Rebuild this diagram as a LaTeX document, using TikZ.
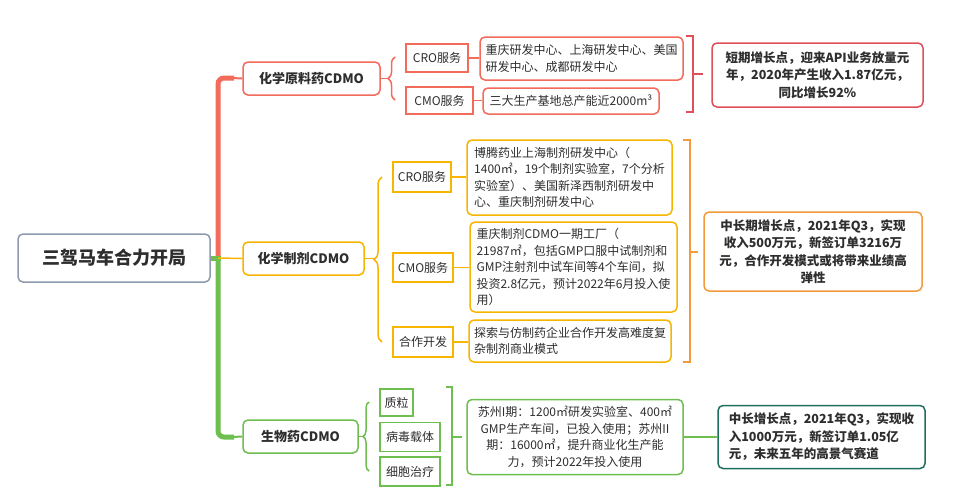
\documentclass[tikz,border=0pt]{standalone}
\usepackage{fontspec}
\setmainfont{Noto Sans CJK SC}
\usetikzlibrary{decorations.pathreplacing}

\definecolor{txt}{HTML}{2E2E2E}
\definecolor{rootc}{HTML}{8E9AAF}
\definecolor{apic}{HTML}{F26B5B}
\definecolor{apisum}{HTML}{E0505A}
\definecolor{prepc}{HTML}{F7B500}
\definecolor{prepsum}{HTML}{F39A3C}
\definecolor{bioc}{HTML}{6EBE50}
\definecolor{biosum}{HTML}{1F6F5F}

\tikzset{
  rootbox/.style={draw=rootc, line width=1.5pt, rounded corners=5pt, text=txt,
    font=\fontsize{18}{22}\selectfont\bfseries, minimum width=192pt, minimum height=48pt},
  branch/.style={draw=#1, line width=1.5pt, rounded corners=5pt, text=txt,
    font=\fontsize{13}{16}\selectfont\bfseries, minimum height=33pt},
  svc/.style={draw=#1, line width=1.5pt, text=txt, inner sep=2pt,
    font=\fontsize{12}{15}\selectfont},
  info/.style={draw=#1, line width=1.5pt, rounded corners=5pt, text=txt, inner sep=3pt,
    align=left, font=\fontsize{12}{16.5}\selectfont},
  sumbox/.style={draw=#1, line width=1.5pt, rounded corners=5pt, text=txt, inner sep=3pt,
    align=center, font=\fontsize{12.5}{17.5}\selectfont\bfseries},
  link/.style={draw=#1, line width=1.5pt},
  curly/.style 2 args={draw=#1, line width=1.5pt, decorate, decoration={brace, amplitude=#2}},
}

\begin{document}
\begin{tikzpicture}[x=1pt, y=-1pt]
  \useasboundingbox[fill=white] (0,0) rectangle (980,496);

  \node[rootbox] (root) at (114,258) {三驾马车合力开局};
  \node[branch=apic, minimum width=137pt] (api) at (311.5,78.5) {化学原料药CDMO};
  \node[branch=prepc, minimum width=121pt] (prep) at (303.5,258.5) {化学制剂CDMO};
  \node[branch=bioc, minimum width=115pt] (bio) at (300.5,436.5) {生物药CDMO};

  \coordinate (spine) at (218,258);
  \draw[apic, line width=5pt, rounded corners=6pt] (218,260) |- (234,78);
  \draw[link=apic, line width=2pt] (232,78) -- (api.west);
  \draw[bioc, line width=5pt] (root.east) -- (220.5,258);
  \draw[bioc, line width=5pt, rounded corners=6pt] (218,258) |- (234,437);
  \draw[link=bioc, line width=2pt] (232,437) -- (bio.west);
  \draw[link=prepc] (spine) -- (prep.west);

  % 化学原料药
  \node[svc=apic, minimum width=62pt, minimum height=28pt] (apiCRO) at (437,58) {CRO服务};
  \node[svc=apic, minimum width=67pt, minimum height=27pt] (apiCMO) at (439.5,100.5) {CMO服务};
  \node[info=apic, minimum width=203pt, minimum height=43pt] (apiCROtxt) at (581.5,58.5)
    {重庆研发中心、上海研发中心、美国\\研发中心、成都研发中心};
  \node[info=apic, minimum width=176pt, minimum height=26pt] (apiCMOtxt) at (571,101)
    {三大生产基地总产能近2000m³};
  \node[sumbox=apisum, minimum width=211pt, minimum height=64pt] (apiSum) at (817.5,75)
    {短期增长点，迎来API业务放量元\\年，2020年产生收入1.87亿元，\\同比增长92\%};
  \draw[curly={apic}{7pt}] (395,100) -- (395,57);
  \coordinate (apiTip) at (388,78.5);
  \draw[link=apic] (api.east) -- (apiTip);
  \draw[link=apic] (apiCRO.east) -- (apiCROtxt.west |- apiCRO.east);
  \draw[link=apic] (apiCMO.east) -- (apiCMOtxt.west |- apiCMO.east);
  \coordinate (apiTick) at (703,74);
  \draw[link=apisum] (686,36) -- (693,36) -- (693,112) -- (686,112);
  \draw[link=apisum] (693,74) -- (apiTick);

  % 化学制剂
  \node[svc=prepc, minimum width=58pt, minimum height=30pt] (prepCRO) at (422,177) {CRO服务};
  \node[svc=prepc, minimum width=60pt, minimum height=29pt] (prepCMO) at (423,267.5) {CMO服务};
  \node[svc=prepc, minimum width=60pt, minimum height=30pt] (prepCo) at (423,342) {合作开发};
  \node[info=prepc, minimum width=205pt, minimum height=75pt] (prepCROtxt) at (569.5,177.5)
    {博腾药业上海制剂研发中心（\\1400㎡，19个制剂实验室，7个分析\\实验室）、美国新泽西制剂研发中\\心、重庆制剂研发中心};
  \node[info=prepc, minimum width=207pt, minimum height=90pt] (prepCMOtxt) at (573.5,267)
    {重庆制剂CDMO一期工厂（\\21987㎡，包括GMP口服中试制剂和\\GMP注射剂中试车间等4个车间，拟\\投资2.8亿元，预计2022年6月投入使\\用）};
  \node[info=prepc, minimum width=202pt, minimum height=42pt] (prepCotxt) at (570,341)
    {探索与仿制药企业合作开发高难度复\\杂制剂商业模式};
  \node[sumbox=prepsum, minimum width=218pt, minimum height=79pt] (prepSum) at (813,251.5)
    {中长期增长点，2021年Q3，实现\\收入500万元，新签订单3216万\\元，合作开发模式或将带来业绩高\\弹性};
  \draw[curly={prepc}{8pt}] (382,342) -- (382,177);
  \coordinate (prepTip) at (374,258.5);
  \draw[link=prepc] (prep.east) -- (prepTip);
  \draw[link=prepc] (prepCRO.east) -- (prepCROtxt.west |- prepCRO.east);
  \draw[link=prepc] (prepCMO.east) -- (prepCMOtxt.west |- prepCMO.east);
  \draw[link=prepc] (prepCo.east) -- (prepCotxt.west |- prepCo.east);
  \coordinate (prepTick) at (698,252);
  \draw[link=prepsum] (683,140) -- (690,140) -- (690,362) -- (683,362);
  \draw[link=prepsum] (690,252) -- (prepTick);

  % 生物药
  \node[svc=bioc, minimum width=33pt, minimum height=27pt] (bioA) at (396.5,402.5) {质粒};
  \node[svc=bioc, minimum width=60pt, minimum height=29pt] (bioB) at (410,437) {病毒载体};
  \node[svc=bioc, minimum width=60pt, minimum height=29pt] (bioC) at (410,471.5) {细胞治疗};
  \node[info=bioc, align=center, minimum width=216pt, minimum height=75pt] (bioTxt) at (575,437)
    {苏州I期：1200㎡研发实验室、400㎡\\GMP生产车间，已投入使用；苏州II\\期：16000㎡，提升商业化生产能\\力，预计2022年投入使用};
  \node[sumbox=biosum, align=left, minimum width=207pt, minimum height=63pt] (bioSum) at (821.5,437)
    {中长增长点，2021年Q3，实现收\\入1000万元，新签订单1.05亿\\元，未来五年的高景气赛道};
  \draw[curly={bioc}{6pt}] (369,471) -- (369,402);
  \coordinate (bioTip) at (363,436.5);
  \draw[link=bioc] (bio.east) -- (bioTip);
  \coordinate (bioTick) at (462,437);
  \draw[link=bioc] (446,387) -- (452,387) -- (452,485) -- (446,485);
  \draw[link=bioc] (452,437) -- (bioTick);
  \draw[link=bioc] (bioTxt.east) -- (bioSum.west);
\end{tikzpicture}
\end{document}
